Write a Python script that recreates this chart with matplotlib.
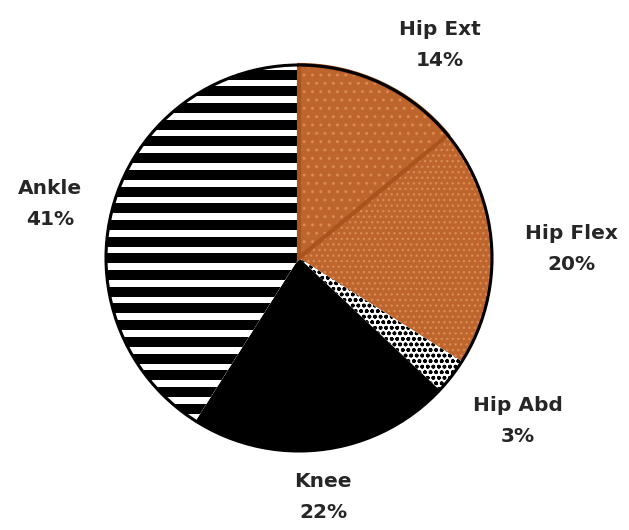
import numpy as np
import matplotlib
matplotlib.use("Agg")
import matplotlib.pyplot as plt

labels = ["Hip Ext", "Hip Flex", "Hip Abd", "Knee", "Ankle"]
shares = [14, 20, 3, 22, 41]

# fill, hatch pattern, hatch colour, hatch width (pt)
faces = ["#BE642D", "#BE642D", "white", "black", "white"]
hatches = ["..", "...", "ooo", None, None]
hatch_cols = ["#D88A52", "#D88A52", "black", "black", "black"]
hatch_lw = [1.0, 1.0, 1.1, 1.0, 1.0]

# label centres in pixel units
label_xy = [(440, 485), (571, 281), (518, 109), (323, 33), (50, 326)]

W, H = 629, 530
cx, cy, R = 299, 272, 193

# horizontal stripes of the ankle wedge
stripe_step, stripe_h, stripe_ref = 16.7, 10.0, 438.7

fig = plt.figure(figsize=(W / 100, H / 100), dpi=100)
ax = fig.add_axes([0, 0, 1, 1])

wedges, _ = ax.pie(shares, startangle=90, counterclock=False,
                   center=(cx, cy), radius=R, frame=True)
for w, fc, h, hc, lw in zip(wedges, faces, hatches, hatch_cols, hatch_lw):
    w.set_facecolor(fc)
    w.set_edgecolor(hc)
    w.set_linewidth(0)
    if h:
        w.set_hatch(h)
        w.set_hatch_linewidth(lw)

k0 = np.floor((cy - R - stripe_ref) / stripe_step) - 1
k1 = np.ceil((cy + R - stripe_ref) / stripe_step) + 1
ys = stripe_ref + stripe_step * np.arange(k0, k1 + 1)
ax.barh(ys, W, height=stripe_h, left=0, color="black", linewidth=0,
        clip_path=wedges[4], zorder=wedges[4].get_zorder() + 0.1)

# darker seam between the two hip wedges
outl, _ = ax.pie(shares, startangle=90, counterclock=False,
                 center=(cx, cy), radius=R, frame=True,
                 wedgeprops=dict(fill=False, linewidth=0))
outl[0].set_edgecolor("#A9541C")
outl[0].set_linewidth(3)
for o in outl:
    o.set_zorder(3)

ax.add_patch(plt.Circle((cx, cy), R, fill=False, edgecolor="black",
                        lw=2.2, zorder=4))

for name, pct, (tx, ty) in zip(labels, shares, label_xy):
    ax.text(tx, ty, f"{name}\n{pct}%", ha="center", va="center",
            fontsize=14.5, family="DejaVu Sans", fontweight="bold",
            color="#262626", linespacing=1.85)

ax.set_xlim(0, W)
ax.set_ylim(0, H)
ax.set_aspect("equal")
ax.axis("off")

fig.savefig("out.png", dpi=100)
